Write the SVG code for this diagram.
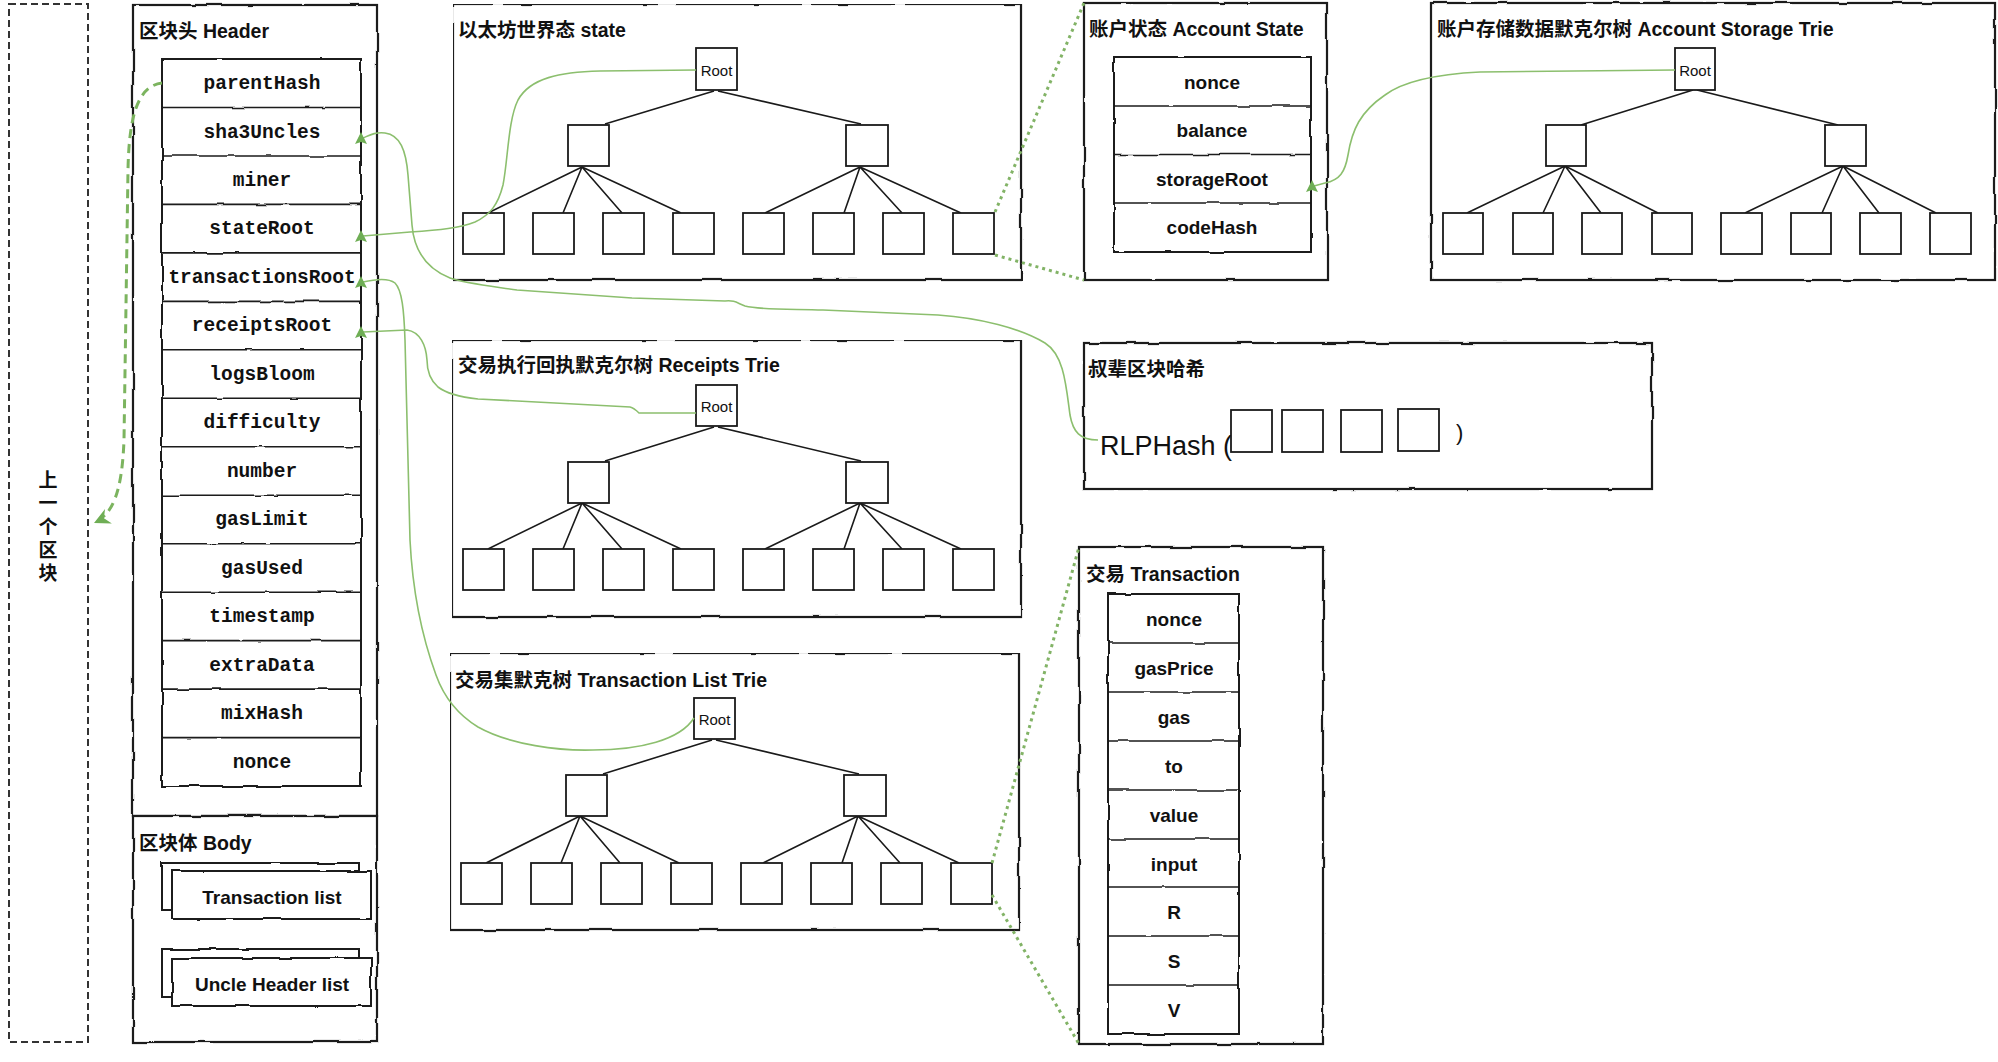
<svg xmlns="http://www.w3.org/2000/svg" xmlns:xlink="http://www.w3.org/1999/xlink" width="1998" height="1062" viewBox="0 0 1998 1062">
<style>
.box{fill:#fff;stroke:#1a1a1a;stroke-width:2.2}
.cell{fill:#fff;stroke:#1a1a1a;stroke-width:2}
.nd{fill:#fff;stroke:#1a1a1a;stroke-width:1.8}
.ed{stroke:#1a1a1a;stroke-width:1.6;fill:none}
.ttl{font-family:'Liberation Sans','Noto Sans CJK SC',sans-serif;font-size:19.5px;font-weight:700;fill:#111;dominant-baseline:central}
.mono{font-family:'Liberation Mono','Courier New',monospace;font-size:19.5px;font-weight:700;fill:#111;text-anchor:middle;dominant-baseline:central}
.fld{font-family:'Liberation Sans','Noto Sans CJK SC',sans-serif;font-size:19px;font-weight:700;fill:#111;text-anchor:middle;dominant-baseline:central}
.rt{font-family:'Liberation Sans',sans-serif;font-size:15px;fill:#111;text-anchor:middle;dominant-baseline:central}
.cn{fill:none;stroke:#8cbf6e;stroke-width:1.6}
.dot{fill:none;stroke:#82b366;stroke-width:3;stroke-dasharray:3 4}
</style>
<defs>
<filter id="rough" filterUnits="userSpaceOnUse" x="0" y="0" width="1998" height="1062">
<feTurbulence type="fractalNoise" baseFrequency="0.035" numOctaves="2" seed="4" result="n"/>
<feDisplacementMap in="SourceGraphic" in2="n" scale="3" xChannelSelector="R" yChannelSelector="G"/>
</filter>
<marker id="up" markerUnits="userSpaceOnUse" markerWidth="14" markerHeight="14" refX="8" refY="6" orient="0" overflow="visible">
<path d="M6,0 L12,12 L6,10 L0,12 Z" fill="#6fae55"/>
</marker>
<marker id="lft" markerUnits="userSpaceOnUse" markerWidth="18" markerHeight="16" refX="16" refY="8" orient="auto" overflow="visible">
<path d="M0,0 L16,8 L0,16 L5,8 Z" fill="#6fae55"/>
</marker>
</defs>
<rect width="1998" height="1062" fill="#fff"/>

<g id="prev-block">
<rect x="9" y="4" width="79" height="1038" fill="none" stroke="#333" stroke-width="2" stroke-dasharray="7 4"/>
<text class="fld" x="48" y="480" font-weight="700"><tspan x="48" y="480">上</tspan><tspan x="48" y="503">一</tspan><tspan x="48" y="527">个</tspan><tspan x="48" y="550">区</tspan><tspan x="48" y="573">块</tspan></text>
</g>

<g id="header">
<g filter="url(#rough)">
<rect class="box" x="133" y="5" width="244" height="811"/>
<rect class="cell" x="162" y="59" width="199" height="727"/>
<path class="ed" stroke-width="2" d="M162,107.5H361M162,156H361M162,204.4H361M162,252.9H361M162,301.4H361M162,349.8H361M162,398.3H361M162,446.8H361M162,495.2H361M162,543.7H361M162,592.2H361M162,640.6H361M162,689.1H361M162,737.6H361"/>
</g>
<text class="ttl" x="139" y="31">区块头 Header</text>
<text class="mono" x="262" y="84">parentHash</text>
<text class="mono" x="262" y="132.5">sha3Uncles</text>
<text class="mono" x="262" y="181">miner</text>
<text class="mono" x="262" y="229.4">stateRoot</text>
<text class="mono" x="262" y="277.9">transactionsRoot</text>
<text class="mono" x="262" y="326.4">receiptsRoot</text>
<text class="mono" x="262" y="374.8">logsBloom</text>
<text class="mono" x="262" y="423.3">difficulty</text>
<text class="mono" x="262" y="471.8">number</text>
<text class="mono" x="262" y="520.2">gasLimit</text>
<text class="mono" x="262" y="568.7">gasUsed</text>
<text class="mono" x="262" y="617.2">timestamp</text>
<text class="mono" x="262" y="665.6">extraData</text>
<text class="mono" x="262" y="714.1">mixHash</text>
<text class="mono" x="262" y="762.6">nonce</text>
</g>

<g id="body">
<g filter="url(#rough)">
<rect class="box" x="133" y="816" width="244" height="226"/>
<rect class="cell" x="162" y="863" width="197" height="47"/>
<rect class="cell" x="172" y="871" width="199" height="48"/>
<rect class="cell" x="162" y="949" width="197" height="48"/>
<rect class="cell" x="172" y="958" width="199" height="48"/>
</g>
<text class="ttl" x="139" y="843">区块体 Body</text>
<text class="fld" x="272" y="897">Transaction list</text>
<text class="fld" x="272" y="984">Uncle Header list</text>
</g>

<g id="state-trie" transform="translate(453,4)">
<rect class="box" x="0" y="0" width="568" height="276" filter="url(#rough)"/>
<text class="ttl" x="5" y="26">以太坊世界态 state</text>
<path class="ed" d="M261,87L152,120M265,87L408,120M129,163L35,209M129,163L110,209M129,163L169,209M129,163L228,209M407,163L312,209M407,163L391,209M407,163L449,209M407,163L508,209"/>
<rect class="nd" x="243" y="44" width="41" height="42"/><text class="rt" x="263.5" y="66">Root</text>
<rect class="nd" x="115" y="121" width="41" height="41"/><rect class="nd" x="393" y="121" width="42" height="41"/>
<rect class="nd" x="10" y="209" width="41" height="41"/><rect class="nd" x="80" y="209" width="41" height="41"/><rect class="nd" x="150" y="209" width="41" height="41"/><rect class="nd" x="220" y="209" width="41" height="41"/><rect class="nd" x="290" y="209" width="41" height="41"/><rect class="nd" x="360" y="209" width="41" height="41"/><rect class="nd" x="430" y="209" width="41" height="41"/><rect class="nd" x="500" y="209" width="41" height="41"/>
</g>

<g id="receipts-trie" transform="translate(452,340)">
<rect class="box" x="0" y="0" width="569" height="277" filter="url(#rough)"/>
<text class="ttl" x="6" y="25">交易执行回执默克尔树 Receipts Trie</text>
<path class="ed" d="M262,87L153,121M266,87L409,121M130,163L36,209M130,163L111,209M130,163L170,209M130,163L229,209M408,163L313,209M408,163L392,209M408,163L450,209M408,163L509,209"/>
<rect class="nd" x="244" y="45" width="41" height="41"/><text class="rt" x="264.5" y="66">Root</text>
<rect class="nd" x="116" y="122" width="41" height="41"/><rect class="nd" x="394" y="122" width="42" height="41"/>
<rect class="nd" x="11" y="209" width="41" height="41"/><rect class="nd" x="81" y="209" width="41" height="41"/><rect class="nd" x="151" y="209" width="41" height="41"/><rect class="nd" x="221" y="209" width="41" height="41"/><rect class="nd" x="291" y="209" width="41" height="41"/><rect class="nd" x="361" y="209" width="41" height="41"/><rect class="nd" x="431" y="209" width="41" height="41"/><rect class="nd" x="501" y="209" width="41" height="41"/>
</g>

<g id="tx-trie" transform="translate(450,653)">
<rect class="box" x="0" y="0" width="569" height="277" filter="url(#rough)"/>
<text class="ttl" x="5" y="27">交易集默克树 Transaction List Trie</text>
<path class="ed" d="M262,87L153,121M266,87L409,121M130,163L36,210M130,163L111,210M130,163L170,210M130,163L229,210M408,163L313,210M408,163L392,210M408,163L450,210M408,163L509,210"/>
<rect class="nd" x="244" y="45" width="41" height="41"/><text class="rt" x="264.5" y="66">Root</text>
<rect class="nd" x="116" y="122" width="41" height="41"/><rect class="nd" x="394" y="122" width="42" height="41"/>
<rect class="nd" x="11" y="210" width="41" height="41"/><rect class="nd" x="81" y="210" width="41" height="41"/><rect class="nd" x="151" y="210" width="41" height="41"/><rect class="nd" x="221" y="210" width="41" height="41"/><rect class="nd" x="291" y="210" width="41" height="41"/><rect class="nd" x="361" y="210" width="41" height="41"/><rect class="nd" x="431" y="210" width="41" height="41"/><rect class="nd" x="501" y="210" width="41" height="41"/>
</g>

<g id="account-state">
<g filter="url(#rough)">
<rect class="box" x="1084" y="3" width="243" height="277"/>
<rect class="cell" x="1114" y="57" width="197" height="195"/>
<path class="ed" stroke-width="2" d="M1114,106H1311M1114,154.5H1311M1114,203H1311"/>
</g>
<text class="ttl" x="1089" y="29">账户状态 Account State</text>
<text class="fld" x="1212" y="82">nonce</text>
<text class="fld" x="1212" y="130">balance</text>
<text class="fld" x="1212" y="179">storageRoot</text>
<text class="fld" x="1212" y="227">codeHash</text>
</g>

<g id="storage-trie">
<rect class="box" x="1431" y="3" width="564" height="277" filter="url(#rough)"/>
<text class="ttl" x="1437" y="29">账户存储数据默克尔树 Account Storage Trie</text>
<path class="ed" d="M1693,90L1581,125M1697,90L1838,125M1565,166L1467,213M1565,166L1543,213M1565,166L1601,213M1565,166L1658,213M1843,166L1745,213M1843,166L1822,213M1843,166L1879,213M1843,166L1936,213"/>
<rect class="nd" x="1675" y="48" width="40" height="42"/><text class="rt" x="1695" y="70">Root</text>
<rect class="nd" x="1546" y="125" width="40" height="41"/><rect class="nd" x="1825" y="125" width="41" height="41"/>
<rect class="nd" x="1443" y="213" width="40" height="41"/><rect class="nd" x="1513" y="213" width="40" height="41"/><rect class="nd" x="1582" y="213" width="40" height="41"/><rect class="nd" x="1652" y="213" width="40" height="41"/><rect class="nd" x="1721" y="213" width="41" height="41"/><rect class="nd" x="1791" y="213" width="40" height="41"/><rect class="nd" x="1860" y="213" width="41" height="41"/><rect class="nd" x="1930" y="213" width="41" height="41"/>
</g>

<g id="uncle-hash">
<rect class="box" x="1084" y="343" width="568" height="146" filter="url(#rough)"/>
<text class="ttl" x="1088" y="369" font-size="18.5px">叔辈区块哈希</text>
<text x="1100" y="455" font-family="'Liberation Sans',sans-serif" font-size="27" fill="#111">RLPHash (</text>
<rect class="nd" x="1231" y="410" width="41" height="42"/>
<rect class="nd" x="1282" y="410" width="41" height="42"/>
<rect class="nd" x="1341" y="410" width="41" height="42"/>
<rect class="nd" x="1398" y="409" width="41" height="42"/>
<text x="1456" y="440" font-family="'Liberation Sans',sans-serif" font-size="22" fill="#111">)</text>
</g>

<g id="transaction">
<g filter="url(#rough)">
<rect class="box" x="1079" y="547" width="244" height="497"/>
<rect class="cell" x="1108" y="594" width="131" height="440"/>
<path class="ed" stroke-width="2" d="M1108,643H1239M1108,692H1239M1108,741H1239M1108,790H1239M1108,839H1239M1108,887H1239M1108,936H1239M1108,985H1239"/>
</g>
<text class="ttl" x="1086" y="574">交易 Transaction</text>
<text class="fld" x="1174" y="619">nonce</text>
<text class="fld" x="1174" y="668">gasPrice</text>
<text class="fld" x="1174" y="717">gas</text>
<text class="fld" x="1174" y="766">to</text>
<text class="fld" x="1174" y="815">value</text>
<text class="fld" x="1174" y="864">input</text>
<text class="fld" x="1174" y="912">R</text>
<text class="fld" x="1174" y="961">S</text>
<text class="fld" x="1174" y="1010">V</text>
</g>

<g id="connectors">
<path d="M162,83 C137,86 129,118 128,170 L124,440 C122,492 113,514 94,523" fill="none" stroke="#7cb45f" stroke-width="3" stroke-dasharray="9 6" marker-end="url(#lft)"/>
<path class="cn" d="M696,70 L600,71 C560,72 530,78 518,100 C508,120 508,160 503,185 C498,205 490,215 475,222 C460,228 440,230 410,232 L363,236" marker-end="url(#up)"/>
<path class="cn" d="M1098,440 C1080,440 1073,432 1070,415 C1066,385 1064,355 1045,343 C1020,328 980,318 938,315 L823,310 C790,309 760,310 745,306 C737,303 735,300 725,301 L632,298 L517,290 C490,286 463,283 450,278 C425,268 414,250 412,225 L408,175 C406,150 400,135 385,133 C375,132 370,135 363,138" marker-end="url(#up)"/>
<path class="cn" d="M694,718 C680,740 640,750 593,750 C560,751 510,745 478,727 C460,716 445,700 436,675 C425,645 413,600 410,540 L405,340 C404,310 402,290 395,283 C390,279 380,278 363,282" marker-end="url(#up)"/>
<path class="cn" d="M696,413 L639,413 C636,410 634,408 630,407 L555,403 L478,399 C460,397 447,394 438,387 C430,380 427,370 427,360 C426,345 420,332 407,330 L363,332" marker-end="url(#up)"/>
<path class="cn" d="M1675,70 L1480,72 C1440,74 1405,80 1385,95 C1360,112 1352,130 1348,155 C1345,172 1340,180 1325,183 L1314,186" marker-end="url(#up)"/>
<path class="dot" d="M995,212 L1084,3"/>
<path class="dot" d="M995,255 L1084,280"/>
<path class="dot" d="M992,863 L1079,547"/>
<path class="dot" d="M992,895 L1079,1044"/>
</g>
</svg>
